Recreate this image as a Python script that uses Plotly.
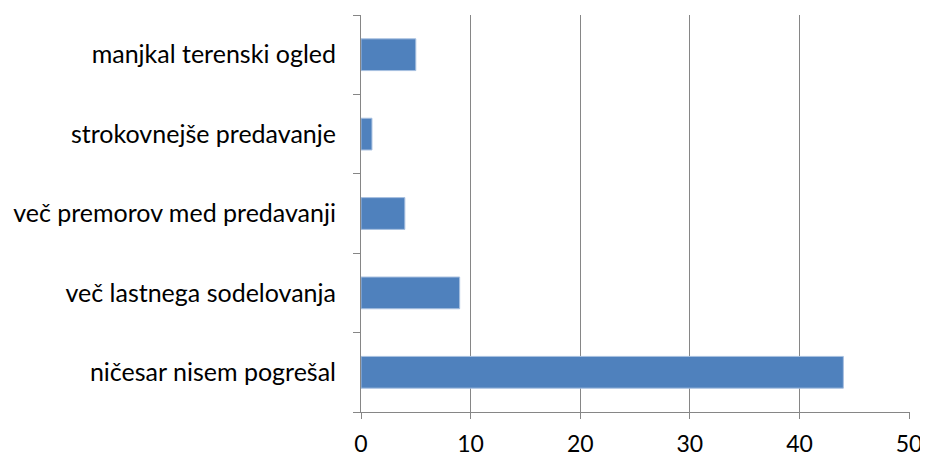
import plotly.graph_objects as go

categories = ["ničesar nisem pogrešal", "več lastnega sodelovanja", "več premorov med predavanji",
              "strokovnejše predavanje", "manjkal terenski ogled"]
values = [44, 9, 4, 1, 5]
x_ticks = [0, 10, 20, 30, 40, 50]

font = dict(family="Lato, Carlito, Calibri, sans-serif", size=25, color="#000000")
xfont = dict(family="Lato, Carlito, Calibri, sans-serif", size=23, color="#000000")

fig = go.Figure(go.Bar(
    y=categories, x=values, orientation="h",
    marker=dict(color="#4F81BD", line=dict(color="#A8C0E0", width=1)),
    width=0.4,
))
# page body has an 8px margin, so the figure is a bit smaller and shifted
fig.update_layout(
    width=920, height=449,
    margin=dict(l=353, r=18, t=7, b=45, autoexpand=False),
    paper_bgcolor="white", plot_bgcolor="white",
    font=font, showlegend=False,
)
fig.update_xaxes(
    range=[0, 50.08], tickvals=x_ticks, showgrid=True, gridcolor="#868686", gridwidth=1,
    showline=True, linecolor="#868686", linewidth=1,
    ticks="outside", ticklen=6, tickcolor="#868686", zeroline=False,
    tickfont=xfont, automargin=False, ticklabeloverflow="allow", ticklabelstandoff=5,
)
fig.update_yaxes(
    type="category", categoryorder="array", categoryarray=categories,
    showline=True, linecolor="#868686", linewidth=1,
    ticks="outside", ticklen=7, tickcolor="#868686", tickson="boundaries",
    showgrid=False, tickfont=font, ticklabelstandoff=19, automargin=False,
)
fig.write_html("out.html")
